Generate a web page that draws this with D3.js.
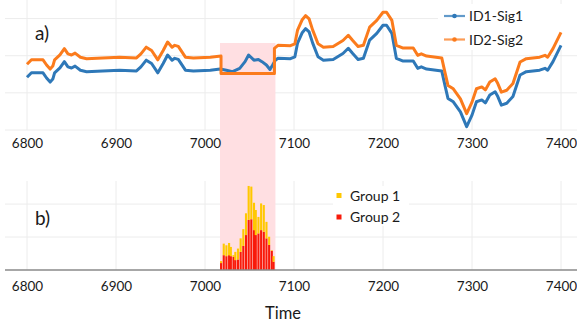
<!DOCTYPE html>
<html>
<head>
<meta charset="utf-8">
<script src="https://cdn.jsdelivr.net/npm/d3@7.9.0/dist/d3.min.js"></script>
<style>
  body { margin: 0; background: #fff; }
  svg { display: block; font-family: Lato, "Open Sans", sans-serif; }
  .tick text { fill: #1a1a1a; }
</style>
</head>
<body>
<svg id="chart" width="577" height="326"></svg>
<script>
// --- data ---
const xTicks = [6800, 6900, 7000, 7100, 7200, 7300, 7400];
const shade = [7018, 7078];

// a) ID1-Sig1
const sig1Time = [6800, 6805, 6818, 6822, 6826, 6829, 6831, 6837, 6842, 6846, 6850, 6854, 6860, 6867,
  6885, 6904, 6923, 6928, 6934, 6940, 6947, 6953, 6958, 6963, 6966, 6970, 6978, 6987, 7006, 7017,
  7024, 7031, 7039, 7045, 7049, 7055, 7060, 7064, 7069, 7073, 7076, 7079, 7082, 7096, 7101, 7104,
  7109, 7113, 7117, 7121, 7127, 7133, 7144, 7155, 7161, 7166, 7172, 7178, 7185, 7193, 7200, 7204,
  7210, 7215, 7222, 7234, 7239, 7243, 7249, 7266, 7270, 7273, 7279, 7287, 7294, 7300, 7305, 7311,
  7315, 7320, 7326, 7329, 7333, 7339, 7346, 7354, 7361, 7376, 7382, 7385, 7391, 7400];
const sig1 = [1.42, 1.54, 1.54, 1.40, 1.29, 1.37, 1.54, 1.67, 1.84, 1.70, 1.67, 1.72, 1.61, 1.57,
  1.59, 1.61, 1.59, 1.70, 1.88, 1.79, 1.54, 1.79, 2.02, 1.88, 1.93, 1.90, 1.61, 1.59, 1.61, 1.64,
  1.61, 1.57, 1.66, 1.84, 2.02, 1.88, 1.90, 1.84, 1.75, 1.63, 1.75, 1.88, 1.93, 1.92, 1.97, 2.34,
  2.61, 2.73, 2.64, 2.34, 1.97, 1.88, 1.90, 2.06, 2.20, 2.06, 1.90, 1.93, 2.42, 2.60, 2.82, 2.82,
  2.60, 1.93, 1.86, 1.86, 1.66, 1.70, 1.64, 1.59, 1.16, 0.85, 0.76, 0.49, 0.09, 0.40, 0.76, 0.81,
  0.73, 0.94, 1.03, 0.90, 0.67, 0.72, 0.90, 1.48, 1.57, 1.61, 1.66, 1.61, 1.84, 2.28];

// a) ID2-Sig2
const sig2Time = [6800, 6805, 6818, 6822, 6826, 6829, 6831, 6837, 6842, 6846, 6850, 6854, 6860, 6867,
  6885, 6904, 6923, 6928, 6934, 6940, 6947, 6953, 6958, 6963, 6966, 6970, 6978, 6987, 7006, 7018,
  7018, 7078, 7078, 7082, 7096, 7101, 7104, 7109, 7113, 7117, 7121, 7127, 7133, 7144, 7155, 7161,
  7166, 7172, 7178, 7185, 7193, 7200, 7204, 7210, 7215, 7222, 7234, 7239, 7243, 7249, 7266, 7270,
  7273, 7279, 7287, 7294, 7300, 7305, 7311, 7315, 7320, 7326, 7329, 7333, 7339, 7346, 7354, 7361,
  7376, 7382, 7385, 7391, 7400];
const sig2 = [1.77, 1.89, 1.89, 1.75, 1.64, 1.72, 1.89, 2.02, 2.19, 2.05, 2.02, 2.07, 1.96, 1.92,
  1.94, 1.96, 1.94, 2.05, 2.23, 2.14, 1.89, 2.14, 2.37, 2.23, 2.28, 2.25, 1.96, 1.94, 1.96, 1.99,
  1.52, 1.52, 2.20, 2.28, 2.27, 2.32, 2.69, 2.96, 3.08, 2.99, 2.69, 2.32, 2.23, 2.25, 2.41, 2.55,
  2.41, 2.25, 2.28, 2.77, 2.95, 3.17, 3.17, 2.95, 2.28, 2.21, 2.21, 2.01, 2.05, 1.99, 1.94, 1.51,
  1.20, 1.11, 0.84, 0.44, 0.75, 1.11, 1.16, 1.08, 1.29, 1.38, 1.25, 1.02, 1.07, 1.25, 1.83, 1.92,
  1.96, 2.01, 1.96, 2.19, 2.63];

// b) stacked bars
const barTime = [7018, 7021, 7024, 7027, 7029, 7032, 7034, 7037, 7040, 7043, 7046, 7049, 7052,
  7055, 7057, 7060, 7063, 7066, 7069, 7072, 7075, 7077];
const group2 = [0.21, 0.45, 0.42, 0.45, 0.42, 0.40, 0.30, 0.32, 0.55, 0.73, 1.06, 1.52, 1.54,
  1.21, 1.06, 1.11, 1.21, 1.16, 0.96, 0.76, 0.58, 0.25];
const group1 = [0.06, 0.35, 0.33, 0.37, 0.28, 0.05, 0.25, 0.33, 0.41, 0.51, 0.66, 1.03, 0.99,
  0.83, 0.76, 0.50, 0.81, 0.81, 0.50, 0.25, 0.02, 0.17];

const seriesA = [
  { name: 'ID1-Sig1', color: '#2e78b8', pts: sig1Time.map((t, i) => [t, sig1[i]]) },
  { name: 'ID2-Sig2', color: '#fb7b1c', pts: sig2Time.map((t, i) => [t, sig2[i]]) }
];
const groups = [
  { name: 'Group 1', color: '#ffc800' },
  { name: 'Group 2', color: '#f81a0a' }
];

// --- layout ---
const svg = d3.select('#chart');
const left = 5, right = 577;
const x = d3.scaleLinear().domain([6800, 7400]).range([27, 561]);
const yA = d3.scaleLinear().domain([0, 3.5]).range([130, 0]);
const yB = d3.scaleLinear().domain([0, 2.7]).range([270, 181]);
const grid = '#ececec';

// gridlines, panel a
svg.append('g').selectAll('line').data([0, 1, 2, 3]).join('line')
  .attr('x1', left).attr('x2', right)
  .attr('y1', d => yA(d)).attr('y2', d => yA(d))
  .attr('stroke', grid);
svg.append('g').selectAll('line').data(xTicks).join('line')
  .attr('x1', d => x(d)).attr('x2', d => x(d))
  .attr('y1', yA(3.5)).attr('y2', yA(0))
  .attr('stroke', grid);

// gridlines, panel b
svg.append('g').selectAll('line').data([1, 2]).join('line')
  .attr('x1', left).attr('x2', right)
  .attr('y1', d => yB(d)).attr('y2', d => yB(d))
  .attr('stroke', grid);
svg.append('g').selectAll('line').data(xTicks).join('line')
  .attr('x1', d => x(d)).attr('x2', d => x(d))
  .attr('y1', yB(2.7)).attr('y2', yB(0))
  .attr('stroke', grid);

// legend backgrounds hide the gridlines but sit under the data
svg.append('rect').attr('x', 438).attr('y', 4).attr('width', 139).attr('height', 46).attr('fill', '#fff');
svg.append('rect').attr('x', 333).attr('y', 186).attr('width', 76).attr('height', 40).attr('fill', '#fff');

// highlighted interval spanning both panels
svg.append('rect')
  .attr('x', x(shade[0]) - 1).attr('width', x(shade[1]) - x(shade[0]) + 2)
  .attr('y', 43).attr('height', yB(0) - 43)
  .attr('fill', '#ffdfe2');

// lines
const line = d3.line().x(d => x(d[0])).y(d => yA(d[1]));
svg.append('g').selectAll('path').data(seriesA).join('path')
  .attr('d', d => line(d.pts))
  .attr('fill', 'none')
  .attr('stroke', d => d.color)
  .attr('stroke-width', 3)
  .attr('stroke-linejoin', 'round');

// stacked bars
const rows = barTime.map((t, i) => ({ t, g1: group1[i], g2: group2[i] }));
const stack = d3.stack().keys(['g2', 'g1'])(rows);
const barColors = { g2: groups[1].color, g1: groups[0].color };
svg.append('g').selectAll('g').data(stack).join('g')
  .attr('fill', d => barColors[d.key])
  .selectAll('rect').data(d => d).join('rect')
  .attr('x', d => x(d.data.t) - 1)
  .attr('width', 2.1)
  .attr('y', d => yB(d[1]))
  .attr('height', d => yB(d[0]) - yB(d[1]));

// axis base of panel b
svg.append('line')
  .attr('x1', left).attr('x2', right)
  .attr('y1', yB(0)).attr('y2', yB(0))
  .attr('stroke', '#8a8a8a').attr('stroke-width', 1.5);

// tick labels
function labels(y) {
  const g = svg.append('g').attr('transform', `translate(0,${y})`)
    .call(d3.axisBottom(x).tickValues(xTicks).tickSize(0).tickPadding(0).tickFormat(d3.format('d')));
  g.select('.domain').remove();
  g.selectAll('text').attr('font-size', 13.5).attr('font-family', 'Lato, sans-serif');
}
labels(138);
labels(281);

svg.append('text').attr('x', 283).attr('y', 319)
  .attr('text-anchor', 'middle').attr('font-size', 16.5).attr('fill', '#1a1a1a')
  .text('Time');

svg.append('text').attr('x', 35).attr('y', 40)
  .attr('font-size', 19).attr('fill', '#1a1a1a').text('a)');
svg.append('text').attr('x', 35).attr('y', 225)
  .attr('font-size', 19).attr('fill', '#1a1a1a').text('b)');

// legend a
seriesA.forEach((s, i) => {
  const yy = 16 + i * 23.5;
  svg.append('line').attr('x1', 444).attr('x2', 465).attr('y1', yy).attr('y2', yy)
    .attr('stroke', s.color).attr('stroke-width', 2.2).attr('stroke-opacity', 0.75);
  svg.append('circle').attr('cx', 454.5).attr('cy', yy).attr('r', 2.3).attr('fill', s.color);
  svg.append('text').attr('x', 469).attr('y', yy + 5)
    .attr('font-size', 14).attr('fill', '#1a1a1a').text(s.name);
});

// legend b
groups.forEach((gr, i) => {
  const yy = 195.5 + i * 21.5;
  svg.append('rect').attr('x', 336.5).attr('y', yy - 2.5).attr('width', 5).attr('height', 5).attr('fill', gr.color);
  svg.append('text').attr('x', 350).attr('y', yy + 5)
    .attr('font-size', 14).attr('fill', '#1a1a1a').text(gr.name);
});
</script>
</body>
</html>
